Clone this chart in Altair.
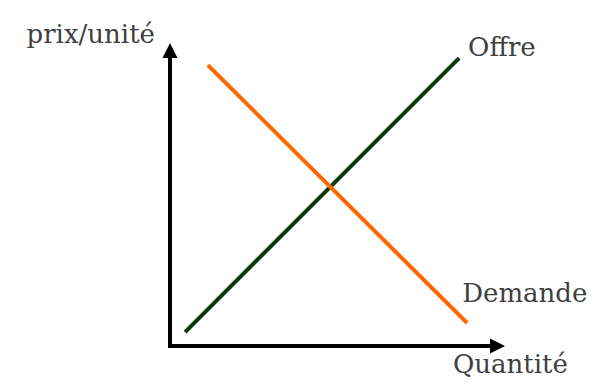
import altair as alt
import pandas as pd

# Supply / demand end points (chart units: quantity 0-10, price 0-10)
series = ["Offre", "Offre", "Demande", "Demande"]
quantite = [0.45, 8.63, 1.13, 8.87]
prix = [0.46, 9.50, 9.27, 0.76]

axis_max = 10
axis_line_end = 9.6

labels = ["prix/unité", "Offre", "Demande", "Quantité"]

lines_df = pd.DataFrame({"serie": series, "q": quantite, "p": prix})

xs = alt.Scale(domain=[0, axis_max], nice=False, zero=True)
ys = alt.Scale(domain=[0, axis_max], nice=False, zero=True)

FONT = "DejaVu Serif"
TXT = "#404040"

axes_df = pd.DataFrame({
    "x": [0, 0], "y": [0, 0],
    "x2": [0, axis_line_end], "y2": [axis_line_end, 0],
})
axes = alt.Chart(axes_df).mark_rule(color="black", strokeWidth=4, strokeCap="square").encode(
    x=alt.X("x:Q", scale=xs, axis=None),
    y=alt.Y("y:Q", scale=ys, axis=None),
    x2="x2:Q", y2="y2:Q",
)

up_df = pd.DataFrame({"x": [0], "y": [axis_max]})
arrow_up = alt.Chart(up_df).mark_point(
    shape="M0,0L0.5,1L-0.5,1Z", filled=True, color="black", opacity=1, size=900, strokeWidth=0
).encode(x=alt.X("x:Q", scale=xs, axis=None), y=alt.Y("y:Q", scale=ys, axis=None))

right_df = pd.DataFrame({"x": [axis_max], "y": [0]})
arrow_right = alt.Chart(right_df).mark_point(
    shape="M0,0L-1,-0.5L-1,0.5Z", filled=True, color="black", opacity=1, size=900, strokeWidth=0
).encode(x=alt.X("x:Q", scale=xs, axis=None), y=alt.Y("y:Q", scale=ys, axis=None))

lines = alt.Chart(lines_df).mark_line(strokeWidth=4, strokeCap="butt").encode(
    x=alt.X("q:Q", scale=xs, axis=None),
    y=alt.Y("p:Q", scale=ys, axis=None),
    color=alt.Color("serie:N", scale=alt.Scale(domain=["Offre", "Demande"],
                                                range=["#0a3a0a", "#ff6600"]), legend=None),
    detail="serie:N",
)

def label(text, x, y, align, dx, dy):
    d = pd.DataFrame({"t": [text], "x": [x], "y": [y]})
    return alt.Chart(d).mark_text(
        font=FONT, fontSize=26, color=TXT, align=align, baseline="alphabetic", dx=dx, dy=dy
    ).encode(x=alt.X("x:Q", scale=xs, axis=None), y=alt.Y("y:Q", scale=ys, axis=None), text="t:N")

t1 = label(labels[0], 0, axis_max, "right", -15, 0)
t2 = label(labels[1], quantite[1], prix[1], "left", 9, -2)
t3 = label(labels[2], quantite[3], prix[3], "left", -5, -21)
t4 = label(labels[3], axis_max, 0, "left", -52, 27)

chart = alt.layer(axes, arrow_up, arrow_right, lines, t1, t2, t3, t4).properties(
    width=335, height=303,
    autosize=alt.AutoSizeParams(type="none"),
    padding={"left": 162, "top": 35, "right": 85, "bottom": 33},
).configure_view(stroke=None)

chart.save("out.html", embed_options={"renderer": "svg", "actions": False})
